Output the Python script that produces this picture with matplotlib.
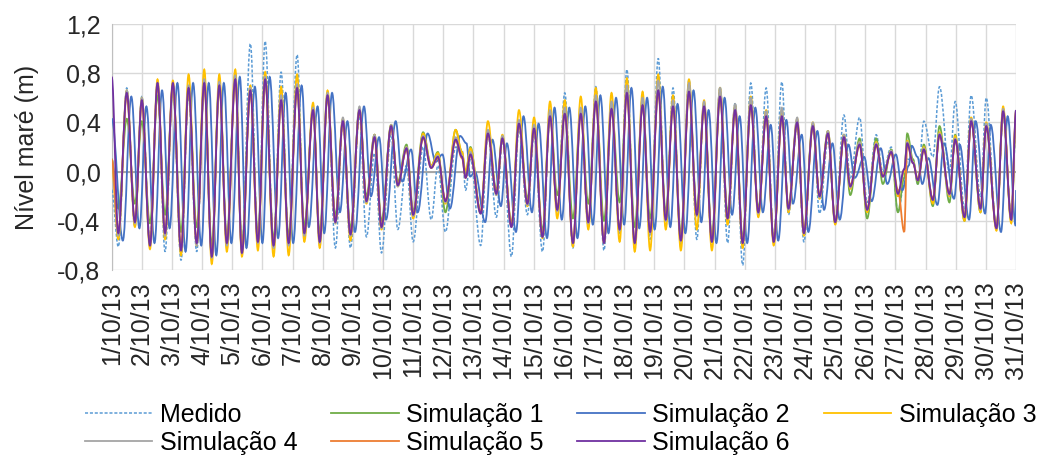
import numpy as np
import matplotlib
matplotlib.use("Agg")
import matplotlib.pyplot as plt
from matplotlib.path import Path
from matplotlib.patches import PathPatch
from matplotlib.lines import Line2D

plt.rcParams['font.family'] = ['Liberation Sans', 'DejaVu Sans']

# =========================
# DATA
# time in days since 1/10/13 00:00, high / low waters of each series
# =========================

times = [0.00, 0.22, 0.50, 0.77, 1.00, 1.27, 1.52, 1.77, 2.03, 2.30,
         2.55, 2.82, 3.07, 3.32, 3.57, 3.82, 4.10, 4.32, 4.60, 4.85,
         5.09, 5.37, 5.62, 5.87, 6.15, 6.39, 6.68, 6.90, 7.16, 7.42,
         7.67, 7.92, 8.22, 8.45, 8.72, 8.95, 9.27, 9.49, 9.78, 10.00,
         10.33, 10.60, 10.82, 11.07, 11.41, 11.62, 11.74, 11.90, 12.24, 12.48,
         12.76, 12.96, 13.26, 13.51, 13.79, 14.01, 14.29, 14.54, 14.78, 15.03,
         15.30, 15.56, 15.81, 16.06, 16.33, 16.58, 16.85, 17.09, 17.35, 17.61,
         17.86, 18.13, 18.38, 18.62, 18.88, 19.15, 19.41, 19.65, 19.91, 20.18,
         20.43, 20.68, 20.93, 21.20, 21.45, 21.71, 21.96, 22.23, 22.45, 22.74,
         22.96, 23.26, 23.48, 23.76, 24.00, 24.29, 24.50, 24.81, 25.06, 25.36,
         25.58, 25.86, 26.08, 26.29, 26.39, 26.58, 26.74, 26.94, 27.24, 27.46,
         27.79, 27.98, 28.29, 28.51, 28.82, 29.01, 29.35, 29.57, 29.84, 30.00]

# Simulação 2 runs a few hours behind the others
sim2_lag = 0.15

medido = [-0.15, -0.61, 0.68, -0.45, 0.61, -0.55, 0.72, -0.65, 0.68, -0.72,
          0.62, -0.65, 0.72, -0.70, 0.72, -0.60, 0.80, -0.62, 1.04, -0.60,
          1.06, -0.60, 0.81, -0.58, 0.95, -0.55, 0.54, -0.60, 0.62, -0.62,
          0.40, -0.62, 0.45, -0.53, 0.15, -0.66, 0.30, -0.47, 0.05, -0.57,
          0.20, -0.39, 0.05, -0.49, 0.20, 0.18, -0.15, 0.10, -0.60, 0.30,
          -0.37, 0.25, -0.69, 0.34, -0.35, 0.30, -0.65, 0.45, -0.30, 0.64,
          -0.62, 0.50, -0.45, 0.69, -0.64, 0.55, -0.50, 0.83, -0.62, 0.60,
          -0.55, 0.92, -0.45, 0.68, -0.60, 0.75, -0.55, 0.55, -0.60, 0.69,
          -0.58, 0.56, -0.76, 0.72, -0.35, 0.68, -0.55, 0.73, -0.35, 0.38,
          -0.57, 0.38, -0.34, 0.25, -0.40, 0.46, -0.05, 0.44, -0.25, 0.30,
          0.00, 0.20, -0.33, -0.10, 0.10, 0.10, -0.10, 0.41, 0.12, 0.69,
          0.00, 0.57, -0.30, 0.62, -0.20, 0.60, -0.47, 0.45, -0.35, 0.35]

sim1 = [0.10, -0.30, 0.43, -0.26, 0.41, -0.42, 0.62, -0.35, 0.66, -0.49,
        0.65, -0.45, 0.70, -0.60, 0.70, -0.52, 0.75, -0.58, 0.66, -0.50,
        0.75, -0.55, 0.58, -0.52, 0.68, -0.44, 0.50, -0.50, 0.62, -0.36,
        0.42, -0.46, 0.50, -0.20, 0.30, -0.40, 0.38, -0.08, 0.22, -0.32,
        0.32, 0.05, 0.16, -0.33, 0.34, 0.15, -0.02, 0.20, -0.34, 0.33,
        -0.15, 0.28, -0.42, 0.40, -0.22, 0.36, -0.48, 0.46, -0.19, 0.48,
        -0.38, 0.48, -0.26, 0.57, -0.40, 0.52, -0.25, 0.64, -0.45, 0.55,
        -0.38, 0.66, -0.33, 0.54, -0.50, 0.65, -0.30, 0.54, -0.52, 0.61,
        -0.33, 0.51, -0.54, 0.55, -0.30, 0.46, -0.55, 0.46, -0.28, 0.41,
        -0.48, 0.38, -0.20, 0.33, -0.42, 0.30, -0.19, 0.27, -0.38, 0.27,
        -0.10, 0.18, -0.33, -0.05, 0.31, 0.10, -0.10, 0.22, -0.28, 0.37,
        -0.25, 0.30, -0.40, 0.42, -0.33, 0.37, -0.44, 0.48, -0.40, 0.45]

sim2 = [0.43, -0.56, 0.61, -0.46, 0.53, -0.58, 0.66, -0.46, 0.72, -0.65,
        0.72, -0.60, 0.72, -0.68, 0.72, -0.58, 0.77, -0.62, 0.69, -0.58,
        0.77, -0.54, 0.64, -0.58, 0.70, -0.45, 0.53, -0.50, 0.64, -0.33,
        0.41, -0.49, 0.53, -0.20, 0.28, -0.39, 0.41, -0.08, 0.18, -0.33,
        0.31, 0.08, 0.14, -0.30, 0.29, 0.23, -0.04, 0.00, -0.41, 0.26,
        -0.28, 0.23, -0.49, 0.45, -0.33, 0.39, -0.54, 0.52, -0.39, 0.52,
        -0.54, 0.53, -0.43, 0.62, -0.50, 0.60, -0.43, 0.68, -0.46, 0.60,
        -0.47, 0.69, -0.45, 0.55, -0.50, 0.66, -0.41, 0.50, -0.58, 0.60,
        -0.35, 0.45, -0.58, 0.52, -0.33, 0.38, -0.56, 0.42, -0.26, 0.30,
        -0.49, 0.33, -0.31, 0.23, -0.39, 0.22, -0.05, 0.12, -0.24, 0.19,
        -0.10, 0.14, -0.15, 0.05, 0.21, 0.12, -0.10, 0.11, -0.27, 0.23,
        -0.22, 0.22, -0.39, 0.41, -0.34, 0.38, -0.49, 0.45, -0.44, -0.15]

sim3 = [0.05, -0.55, 0.66, -0.45, 0.60, -0.63, 0.75, -0.55, 0.74, -0.68,
        0.79, -0.60, 0.83, -0.75, 0.79, -0.65, 0.83, -0.69, 0.70, -0.64,
        0.81, -0.69, 0.69, -0.68, 0.79, -0.57, 0.56, -0.62, 0.66, -0.42,
        0.43, -0.56, 0.51, -0.26, 0.30, -0.47, 0.38, -0.12, 0.20, -0.38,
        0.31, 0.05, 0.15, -0.26, 0.34, 0.16, 0.00, 0.19, -0.33, 0.41,
        -0.19, 0.30, -0.44, 0.50, -0.28, 0.44, -0.54, 0.57, -0.38, 0.58,
        -0.61, 0.61, -0.47, 0.68, -0.58, 0.64, -0.57, 0.76, -0.65, 0.65,
        -0.64, 0.79, -0.47, 0.62, -0.64, 0.75, -0.47, 0.58, -0.64, 0.68,
        -0.43, 0.54, -0.62, 0.61, -0.37, 0.50, -0.60, 0.50, -0.33, 0.43,
        -0.52, 0.40, -0.22, 0.33, -0.43, 0.30, -0.14, 0.24, -0.33, 0.24,
        -0.03, 0.17, -0.20, 0.00, 0.25, 0.08, -0.06, 0.20, -0.26, 0.32,
        -0.20, 0.29, -0.40, 0.44, -0.33, 0.40, -0.48, 0.53, -0.42, 0.48]

sim4 = [0.10, -0.52, 0.66, -0.42, 0.60, -0.60, 0.72, -0.52, 0.70, -0.64,
        0.70, -0.60, 0.75, -0.70, 0.73, -0.60, 0.78, -0.66, 0.68, -0.58,
        0.77, -0.62, 0.62, -0.60, 0.71, -0.52, 0.52, -0.58, 0.64, -0.42,
        0.44, -0.52, 0.53, -0.25, 0.30, -0.46, 0.38, -0.12, 0.20, -0.36,
        0.29, 0.04, 0.13, -0.25, 0.28, 0.13, -0.04, 0.16, -0.34, 0.34,
        -0.19, 0.29, -0.45, 0.42, -0.27, 0.38, -0.53, 0.50, -0.32, 0.52,
        -0.58, 0.52, -0.42, 0.62, -0.58, 0.57, -0.48, 0.70, -0.58, 0.60,
        -0.50, 0.74, -0.40, 0.58, -0.56, 0.72, -0.36, 0.57, -0.57, 0.68,
        -0.38, 0.55, -0.58, 0.60, -0.34, 0.49, -0.57, 0.52, -0.31, 0.44,
        -0.50, 0.40, -0.21, 0.33, -0.41, 0.30, -0.13, 0.24, -0.31, 0.23,
        -0.04, 0.17, -0.18, 0.02, 0.24, 0.08, -0.07, 0.19, -0.23, 0.31,
        -0.19, 0.27, -0.37, 0.43, -0.31, 0.39, -0.46, 0.51, -0.39, 0.50]

sim5 = [0.10, -0.48, 0.62, -0.40, 0.56, -0.58, 0.70, -0.49, 0.70, -0.62,
        0.66, -0.57, 0.70, -0.67, 0.68, -0.57, 0.73, -0.64, 0.64, -0.56,
        0.73, -0.58, 0.56, -0.56, 0.66, -0.49, 0.49, -0.55, 0.60, -0.40,
        0.40, -0.50, 0.49, -0.23, 0.27, -0.44, 0.36, -0.10, 0.18, -0.34,
        0.27, 0.03, 0.11, -0.23, 0.25, 0.11, -0.05, 0.13, -0.33, 0.30,
        -0.17, 0.26, -0.44, 0.38, -0.25, 0.34, -0.52, 0.44, -0.30, 0.46,
        -0.57, 0.46, -0.40, 0.56, -0.57, 0.50, -0.46, 0.62, -0.57, 0.53,
        -0.48, 0.64, -0.38, 0.52, -0.55, 0.63, -0.34, 0.52, -0.56, 0.60,
        -0.37, 0.49, -0.57, 0.53, -0.32, 0.44, -0.56, 0.44, -0.29, 0.39,
        -0.49, 0.36, -0.19, 0.30, -0.40, 0.27, -0.11, 0.21, -0.30, 0.21,
        -0.04, 0.15, -0.15, -0.49, 0.22, 0.07, -0.07, 0.17, -0.22, 0.29,
        -0.18, 0.25, -0.36, 0.40, -0.29, 0.36, -0.45, 0.48, -0.38, 0.49]

sim6 = [0.77, -0.50, 0.64, -0.41, 0.58, -0.60, 0.72, -0.50, 0.72, -0.64,
        0.68, -0.58, 0.72, -0.69, 0.70, -0.58, 0.75, -0.66, 0.66, -0.57,
        0.75, -0.60, 0.58, -0.58, 0.68, -0.50, 0.50, -0.57, 0.62, -0.41,
        0.41, -0.51, 0.50, -0.24, 0.28, -0.45, 0.37, -0.11, 0.19, -0.35,
        0.28, 0.03, 0.12, -0.24, 0.26, 0.12, -0.05, 0.14, -0.34, 0.31,
        -0.18, 0.27, -0.45, 0.39, -0.26, 0.35, -0.53, 0.45, -0.31, 0.47,
        -0.58, 0.47, -0.41, 0.57, -0.58, 0.51, -0.47, 0.64, -0.58, 0.54,
        -0.49, 0.66, -0.39, 0.53, -0.56, 0.65, -0.35, 0.53, -0.57, 0.61,
        -0.38, 0.50, -0.58, 0.54, -0.33, 0.45, -0.57, 0.45, -0.30, 0.40,
        -0.50, 0.37, -0.20, 0.31, -0.41, 0.28, -0.12, 0.22, -0.31, 0.22,
        -0.04, 0.16, -0.18, 0.02, 0.23, 0.07, -0.07, 0.18, -0.23, 0.30,
        -0.18, 0.26, -0.37, 0.41, -0.30, 0.37, -0.46, 0.49, -0.39, 0.50]

day_labels = [f"{d}/10/13" for d in range(1, 32)]
y_ticks = [-0.8, -0.4, 0.0, 0.4, 0.8, 1.2]


# smooth curve through the high / low waters (flat at each turning point)
def tide_path(x, y, k=0.3642):
    verts = [(x[0], y[0])]
    codes = [Path.MOVETO]
    for i in range(1, len(x)):
        dx = x[i] - x[i - 1]
        verts += [(x[i - 1] + k * dx, y[i - 1]), (x[i] - k * dx, y[i]), (x[i], y[i])]
        codes += [Path.CURVE4] * 3
    return Path(verts, codes)


# =========================
# PLOT
# =========================

t = np.array(times)
t2 = np.minimum(t + sim2_lag, 30.0)
t2[0] = 0.0

series = [
    ('Medido', t, medido, '#5B9BD5', 1.1, (0, (2.0, 1.2))),
    ('Simulação 1', t, sim1, '#70AD47', 1.3, '-'),
    ('Simulação 2', t2, sim2, '#4472C4', 1.3, '-'),
    ('Simulação 3', t, sim3, '#FFC000', 1.3, '-'),
    ('Simulação 4', t, sim4, '#A5A5A5', 1.3, '-'),
    ('Simulação 5', t, sim5, '#ED7D31', 1.3, '-'),
    ('Simulação 6', t, sim6, '#7030A0', 1.3, '-'),
]

fig = plt.figure(figsize=(10.4, 4.57), dpi=100)
ax = fig.add_axes([0.1074, 0.409, 0.8696, 0.5385])

handles = []
for z, (name, x, y, c, w, ls) in enumerate(series):
    ax.add_patch(PathPatch(tide_path(x, y), fill=False, edgecolor=c,
                           lw=w, ls=ls, zorder=3 + z))
    handles.append(Line2D([], [], color=c, lw=w, ls=ls, label=name))

ax.set_xlim(0, 30)
ax.set_ylim(-0.8, 1.2)

ax.set_xticks(range(31))
ax.set_xticklabels(day_labels, rotation=90, fontsize=18)
ax.set_yticks(y_ticks)
ax.set_yticklabels([f"{v:.1f}".replace('.', ',') for v in y_ticks], fontsize=18)
ax.tick_params(axis='both', length=0, pad=8, colors='#262626')

ax.grid(True, color='#D9D9D9', lw=1.0)
ax.set_axisbelow(True)
ax.axhline(0, color='#A0A0A0', lw=1.3, zorder=1)
for s in ['top', 'right', 'bottom']:
    ax.spines[s].set_visible(False)
ax.spines['left'].set_color('#BFBFBF')

ax.set_ylabel('Nível maré (m)', fontsize=18, color='#262626', labelpad=13)

# legend row by row: Medido, Sim1, Sim2, Sim3 / Sim4, Sim5, Sim6
order = [0, 4, 1, 5, 2, 6, 3]
fig.legend([handles[i] for i in order], [handles[i].get_label() for i in order],
           ncol=4, loc='upper center', bbox_to_anchor=(0.539, 1 - 393 / 457),
           bbox_transform=fig.transFigure, frameon=False, fontsize=18,
           handlelength=2.7, handletextpad=0.3, columnspacing=1.35,
           labelspacing=0.15, borderaxespad=0)

fig.savefig('out.png', dpi=100)
